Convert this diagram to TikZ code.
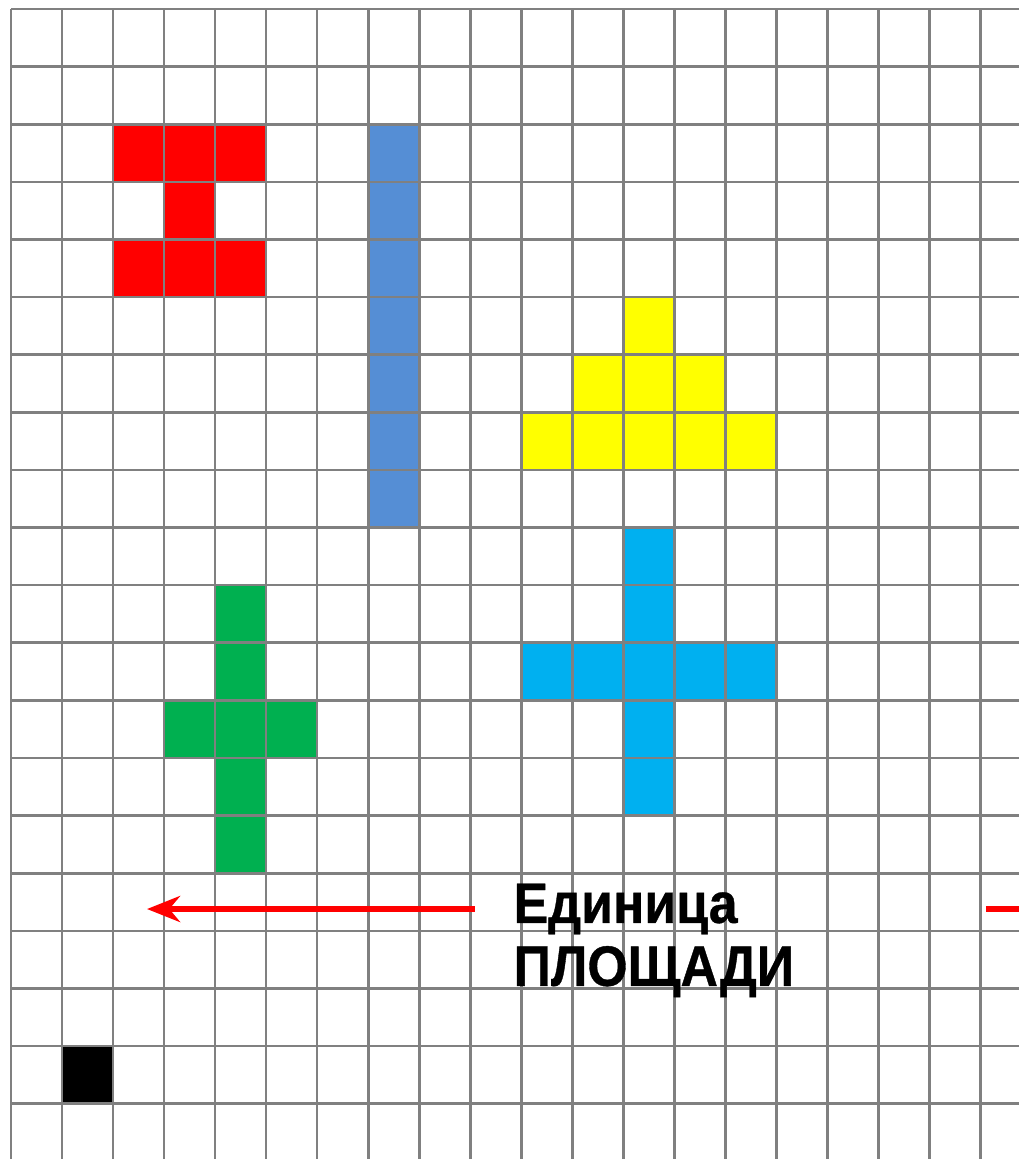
\documentclass[tikz,border=0pt]{standalone}
\usepackage{fontspec}
\setmainfont{Liberation Sans}
\newfontfamily\unitfont[FakeStretch=0.91,BoldFeatures={FakeBold=0.6}]{Liberation Sans}
\usetikzlibrary{positioning,arrows.meta}
\definecolor{GridGrey}{RGB}{128,128,128}
\definecolor{ShapeRed}{RGB}{255,0,0}
\definecolor{ShapeBlue}{RGB}{85,142,213}
\definecolor{ShapeYellow}{RGB}{255,255,0}
\definecolor{ShapeCyan}{RGB}{0,176,240}
\definecolor{ShapeGreen}{RGB}{0,176,80}
\tikzset{
  gridline/.style={draw=GridGrey,line width=0.75pt},
  cellfill/.style={fill=#1},
  unitarrow/.style={-{Stealth[length=0.33cm,width=0.26cm]},draw=ShapeRed,line width=1.6pt},
  unitline/.style={draw=ShapeRed,line width=1.6pt},
  unittext/.style={inner sep=0pt,anchor=north west,align=left,
    font=\unitfont\fontsize{16.2}{17.9}\selectfont\bfseries}
}

\begin{document}
\begin{tikzpicture}[x=0.01cm,y=-0.01cm]
  \useasboundingbox (0,0) rectangle (1019,1159);
  \clip (0,0) rectangle (1019,1159);
  \fill[white] (0,0) rectangle (1019,1159);

  % squared paper, one cell = (1,1)
  \begin{scope}[xshift=0.11cm,yshift=-0.09cm,x=0.51cm,y=-0.5758cm]
    \foreach \c/\r in {2/2,3/2,4/2,3/3,2/4,3/4,4/4}
      \fill[cellfill=ShapeRed] (\c,\r) rectangle +(1,1);
    \foreach \r in {2,...,8}
      \fill[cellfill=ShapeBlue] (7,\r) rectangle +(1,1);
    \foreach \c/\r in {12/5,11/6,12/6,13/6,10/7,11/7,12/7,13/7,14/7}
      \fill[cellfill=ShapeYellow] (\c,\r) rectangle +(1,1);
    \foreach \c/\r in {12/9,12/10,10/11,11/11,12/11,13/11,14/11,12/12,12/13}
      \fill[cellfill=ShapeCyan] (\c,\r) rectangle +(1,1);
    \foreach \c/\r in {4/10,4/11,3/12,4/12,5/12,4/13,4/14}
      \fill[cellfill=ShapeGreen] (\c,\r) rectangle +(1,1);
    \fill[cellfill=black] (1,18) rectangle +(1,1);

    \foreach \c in {0,...,19}
      \draw[gridline] (\c,0) -- (\c,21);
    \foreach \r in {0,...,20}
      \draw[gridline] (0,\r) -- (21,\r);
  \end{scope}

  \node[unittext] (unit) at (513,883) {Единица\\ПЛОЩАДИ};
  \coordinate (tail) at (475,909);
  \coordinate (tip) at (147,909);
  \coordinate (rstart) at (986,909);
  \coordinate (rend) at (1030,909);
  \draw[unitarrow] (tail) -- (tip);
  \draw[unitline] (rstart) -- (rend);
\end{tikzpicture}
\end{document}
